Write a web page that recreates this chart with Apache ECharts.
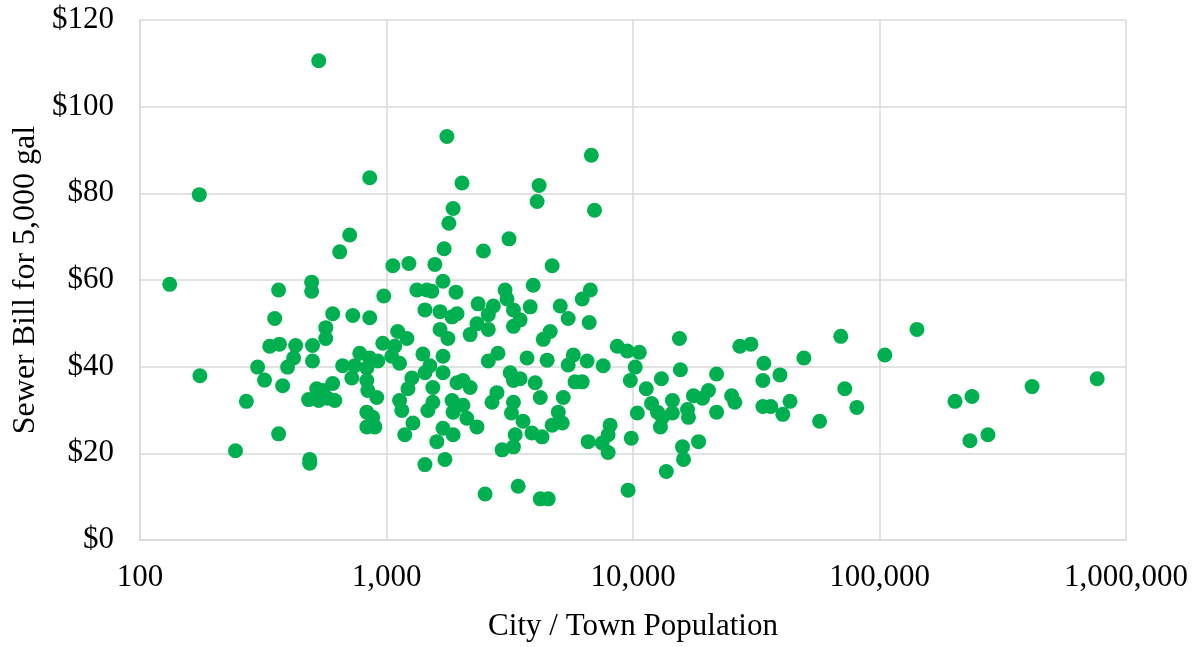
<!DOCTYPE html>
<html>
<head>
<meta charset="utf-8">
<script src="https://cdn.jsdelivr.net/npm/echarts@6/dist/echarts.min.js"></script>
<style>
html,body{margin:0;padding:0;background:#fff;}
#chart{width:1198px;height:647px;}
</style>
</head>
<body>
<div id="chart"></div>
<script>
// City / Town population
const population = [
132,174,175,244,270,300,320,336,352,365,365,368,379,397,420,428,483,488,488,497,
497,501,501,521,531,531,567,567,605,730,855,975,1328,1110,1210,966,1080,779,855,922,
1050,1130,664,743,832,723,605,551,617,577,832,840,913,832,879,832,897,1267,1222,1130,
1154,1280,1186,855,709,646,1061,1233,1758,6776,2024,4159,4083,6980,1863,1791,3140,1713,2473,1571,
4699,1695,1458,1528,1914,3027,3084,1432,1649,1932,1845,2354,2713,2588,3273,2328,2184,2588,1649,1775,
3273,1405,1695,2832,2588,1500,3176,1432,1695,1542,1932,2184,2042,3273,2806,2679,1542,1472,1845,2042,
1863,3273,3213,2118,2328,1695,1863,1600,2944,3327,3273,1726,1432,2512,3421,3936,6713,6222,5069,3828,
3484,5458,6640,4613,4324,8630,3717,4485,5728,5458,6515,7568,3484,4010,5821,6222,4206,5212,4977,3581,
4699,5164,3891,4276,6577,7499,8074,7925,7925,4206,4530,9480,10610,10210,9750,11320,13040,15430,15570,21830,
11890,12560,13160,14450,14450,10420,12920,16640,16790,17580,19140,20240,21830,9840,15880,18450,16030,13650,27130,30080,
33960,49350,69650,105100,141900,33650,39460,25130,25880,33650,36220,40530,43340,72300,80900,57150,202400,237300,415900,764000,
232800,275400,9550
];
// Sewer bill for 5,000 gal ($)
const bill = [
59.0,79.7,37.9,20.6,32.0,39.9,36.9,44.7,51.1,57.7,24.5,45.2,35.6,39.9,42.0,44.9,32.4,18.6,17.7,59.5,
57.4,44.9,41.3,34.9,32.2,110.6,49.0,46.5,52.2,51.8,51.3,56.3,57.7,48.1,46.5,45.4,44.7,43.1,42.0,41.3,
42.4,40.8,40.2,40.2,39.7,37.4,36.1,34.5,32.2,32.7,36.8,34.5,32.9,29.5,28.3,26.1,26.1,37.4,34.9,32.2,
29.9,27.0,24.3,83.6,70.4,66.5,63.3,63.8,93.1,88.8,82.4,81.8,78.1,76.1,76.5,73.1,69.5,67.2,66.7,63.6,
63.3,59.7,57.7,57.4,57.2,57.7,55.6,53.1,52.7,52.2,51.5,54.5,54.0,52.0,53.1,49.9,47.4,48.6,48.6,46.5,
49.3,42.9,42.4,43.1,41.3,40.2,38.6,38.6,38.6,35.2,36.3,35.2,36.8,36.8,34.0,31.8,31.8,29.9,32.2,31.1,
29.5,31.8,29.3,28.1,26.1,25.8,24.3,22.7,20.8,24.3,21.5,18.6,17.4,10.6,12.4,58.8,57.7,55.6,54.0,53.8,
50.8,51.1,50.2,48.1,46.3,44.7,42.0,41.5,42.7,40.4,41.3,40.2,37.2,36.3,36.5,36.5,32.9,32.9,29.5,27.4,
26.5,27.0,24.7,23.8,22.7,22.4,26.5,24.3,20.2,9.5,9.5,43.6,43.3,39.9,36.8,34.9,37.2,46.5,39.3,38.3,
31.5,29.5,28.3,29.3,32.2,29.3,26.1,30.1,28.3,33.3,32.7,34.5,29.5,23.5,21.5,22.7,18.6,15.8,44.7,45.2,
40.8,42.0,47.0,42.7,48.6,36.8,38.1,33.3,31.8,30.8,30.8,29.0,32.0,34.9,30.6,27.4,32.0,33.1,35.4,37.2,
22.9,24.3,11.5
];
const yTicks = {min: 0, max: 120, step: 20};
const xRange = {min: 100, max: 1000000};

const points = population.map((p, i) => [p, bill[i]]);
const font = "'Liberation Serif', 'Times New Roman', serif";
const chart = echarts.init(document.getElementById('chart'), null, {renderer: 'canvas'});
chart.setOption({
  animation: false,
  backgroundColor: '#ffffff',
  grid: {left: 140, right: 72, top: 20, bottom: 99, containLabel: false},
  xAxis: {
    type: 'log', logBase: 10, min: xRange.min, max: xRange.max,
    name: 'City / Town Population', nameLocation: 'middle', nameGap: 71,
    nameTextStyle: {fontFamily: font, fontSize: 31, color: '#000'},
    axisLine: {show: true, lineStyle: {color: '#d9d9d9', width: 1.5}},
    axisTick: {show: false},
    splitLine: {show: true, lineStyle: {color: '#d9d9d9', width: 1.5}},
    minorTick: {show: false}, minorSplitLine: {show: false},
    axisLabel: {fontFamily: font, fontSize: 31, color: '#000', margin: 22,
      formatter: v => Number(v).toLocaleString('en-US')}
  },
  yAxis: {
    type: 'value', min: yTicks.min, max: yTicks.max, interval: yTicks.step,
    name: 'Sewer Bill for 5,000 gal', nameLocation: 'middle', nameGap: 98,
    nameTextStyle: {fontFamily: font, fontSize: 32, color: '#000'},
    axisLine: {show: true, lineStyle: {color: '#d9d9d9', width: 1.5}},
    axisTick: {show: false},
    splitLine: {show: true, lineStyle: {color: '#d9d9d9', width: 1.5}},
    axisLabel: {fontFamily: font, fontSize: 31, color: '#000', margin: 26,
      formatter: v => '$' + v}
  },
  series: [{
    type: 'scatter', data: points, symbol: 'circle', symbolSize: 15,
    itemStyle: {color: '#00B050', opacity: 1}
  }]
});
</script>
</body>
</html>
